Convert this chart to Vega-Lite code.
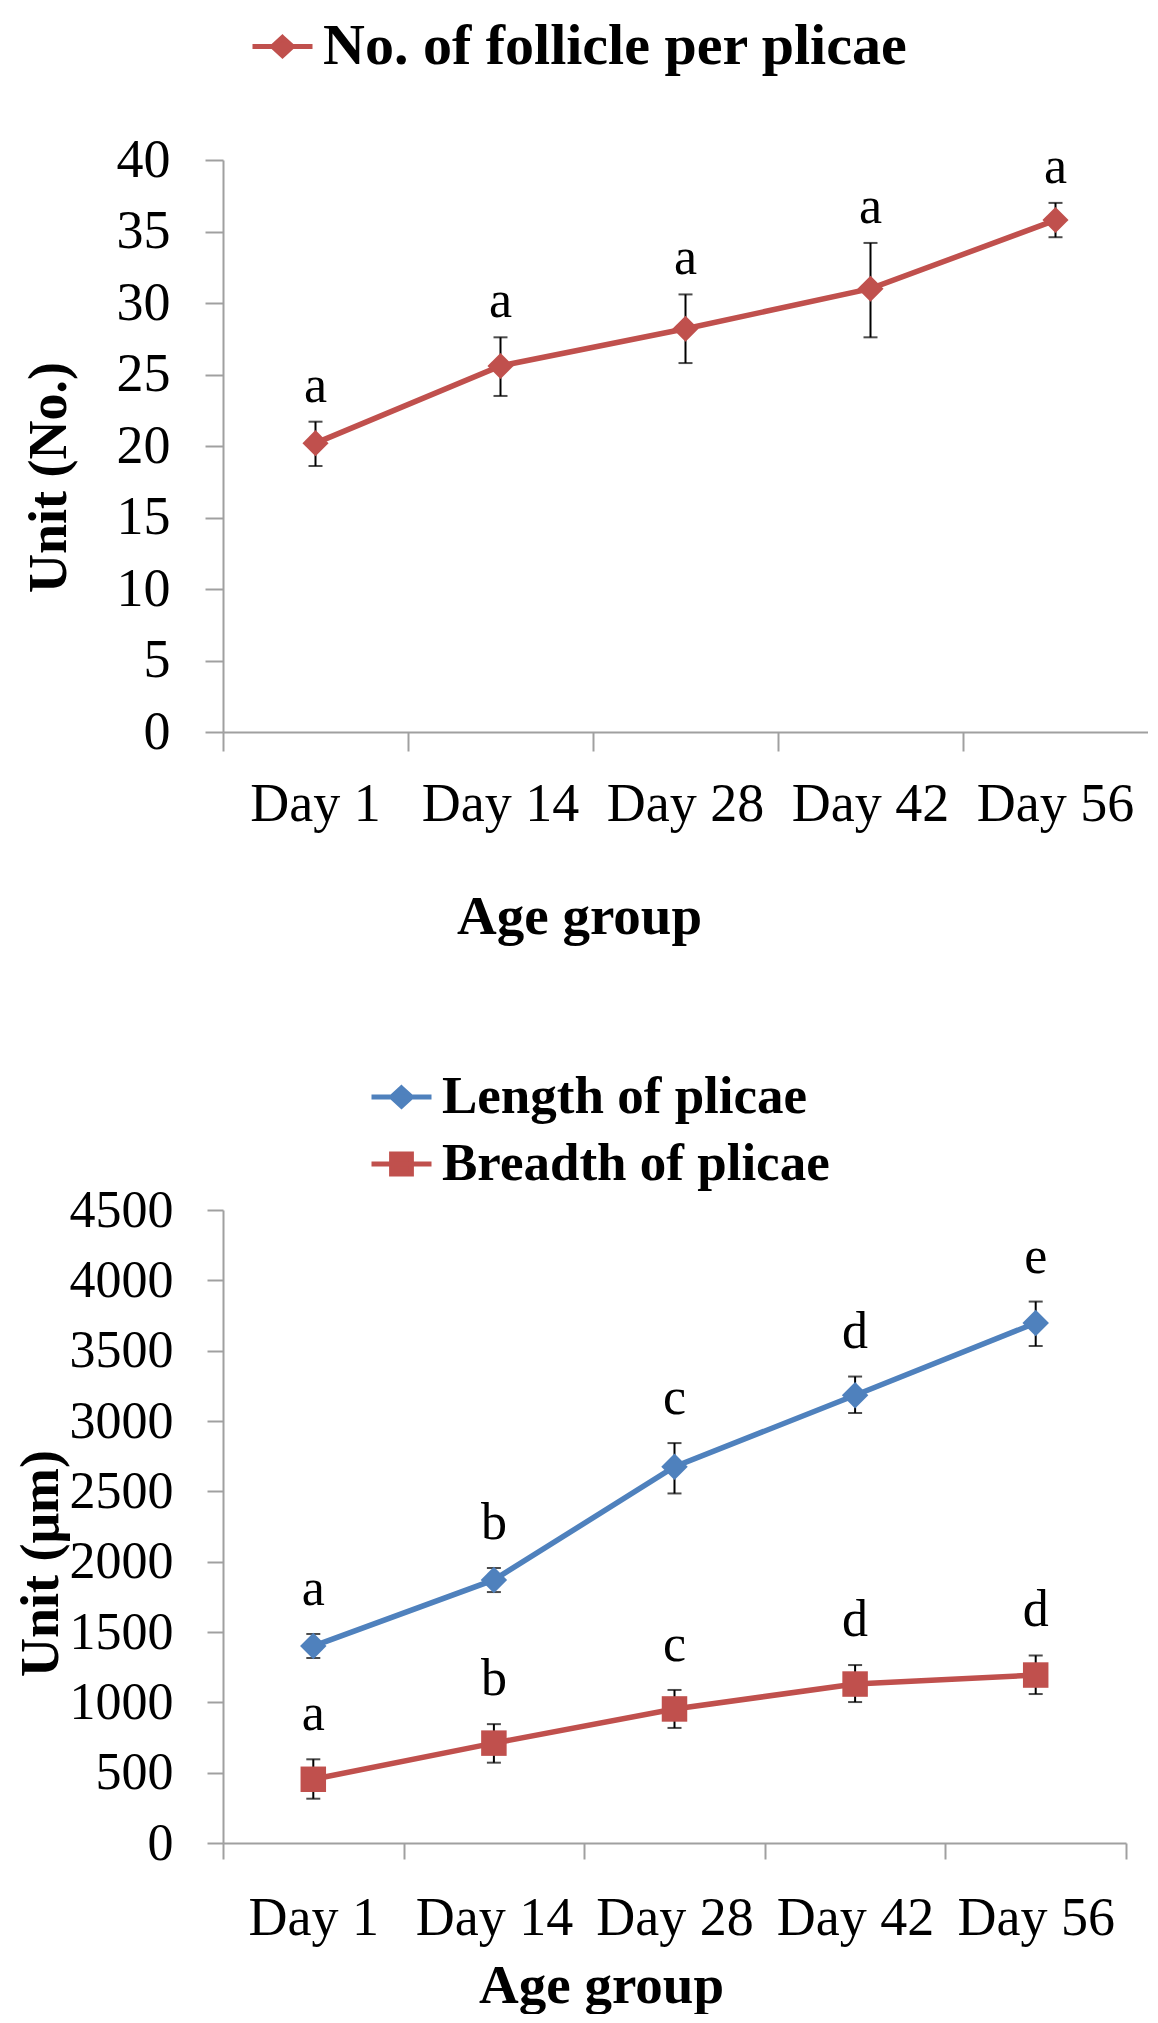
{
  "$schema": "https://vega.github.io/schema/vega-lite/v6.json",
  "background": "white",
  "padding": {"left": 14, "top": 14, "right": 0, "bottom": 0},
  "columns": 1,
  "align": "none",
  "spacing": 120,
  "config": {
    "font": "Liberation Serif",
    "view": {"stroke": null},
    "axis": {
      "domainColor": "#a0a0a0", "domainWidth": 2, "tickColor": "#a0a0a0", "tickWidth": 2,
      "grid": false, "labelColor": "black", "titleColor": "black",
      "labelFont": "Liberation Serif", "titleFont": "Liberation Serif", "titleFontWeight": "bold"
    }
  },
  "resolve": {
    "scale": {"color": "independent", "shape": "independent"},
    "legend": {"color": "independent", "shape": "independent"}
  },
  "concat": [
    {
      "width": 925,
      "height": 572,
      "data": {"values": [
        {"age": "Day 1", "series": "No. of follicle per plicae", "value": 20.2, "lo": 18.6, "hi": 21.7, "letter": "a"},
        {"age": "Day 14", "series": "No. of follicle per plicae", "value": 25.6, "lo": 23.5, "hi": 27.6, "letter": "a"},
        {"age": "Day 28", "series": "No. of follicle per plicae", "value": 28.2, "lo": 25.8, "hi": 30.6, "letter": "a"},
        {"age": "Day 42", "series": "No. of follicle per plicae", "value": 31.0, "lo": 27.6, "hi": 34.2, "letter": "a"},
        {"age": "Day 56", "series": "No. of follicle per plicae", "value": 35.8, "lo": 34.6, "hi": 37.0, "letter": "a"}
      ]},
      "encoding": {
        "x": {
          "field": "age", "type": "nominal", "sort": null,
          "scale": {"paddingInner": 0, "paddingOuter": 0},
          "axis": {
            "title": "Age group", "labelAngle": 0, "bandPosition": 0,
            "tickSize": 19, "labelPadding": 26, "labelFontSize": 54, "titleFontSize": 55,
            "titlePadding": 59, "minExtent": 99, "maxExtent": 99, "titleX": 356
          }
        },
        "color": {
          "field": "series", "type": "nominal",
          "scale": {"domain": ["No. of follicle per plicae"], "range": ["#C0504D"]},
          "legend": {
            "orient": "none", "legendX": 27, "legendY": -146, "title": null,
            "labelFontSize": 58, "labelFontWeight": "bold", "labelFont": "Liberation Serif", "labelColor": "black",
            "symbolSize": 3600, "labelOffset": 8, "padding": 0, "rowPadding": 1, "labelLimit": 1000,
            "encode": {"symbols": {"update": {
              "shape": {"value": "M-1,0H1M0,-0.3L0.33,0L0,0.3L-0.33,0Z"},
              "fill": {"value": "#C0504D"}, "stroke": {"value": "#C0504D"},
              "strokeWidth": {"value": 5}, "opacity": {"value": 1}
            }}}
          }
        },
        "y": {
          "field": "value", "type": "quantitative",
          "scale": {"domain": [0, 40], "nice": false},
          "axis": {
            "title": "Unit (No.)", "values": [0, 5, 10, 15, 20, 25, 30, 35, 40],
            "tickSize": 18, "labelPadding": 35, "labelFontSize": 54, "titleFontSize": 54,
            "titlePadding": 36.5, "minExtent": 110, "maxExtent": 110, "titleY": 317
          }
        }
      },
      "layer": [
        {"mark": {"type": "line", "strokeWidth": 5.5}},
        {
          "mark": {"type": "rule", "strokeWidth": 2},
          "encoding": {"y": {"field": "lo"}, "y2": {"field": "hi"}, "color": {"value": "black"}}
        },
        {
          "mark": {"type": "tick", "thickness": 2, "size": 14},
          "encoding": {"y": {"field": "lo"}, "color": {"value": "black"}}
        },
        {
          "mark": {"type": "tick", "thickness": 2, "size": 14},
          "encoding": {"y": {"field": "hi"}, "color": {"value": "black"}}
        },
        {"mark": {"type": "point", "shape": "diamond", "filled": true, "size": 680, "opacity": 1}},
        {
          "mark": {"type": "text", "fontSize": 52, "dy": -20, "baseline": "alphabetic"},
          "encoding": {"y": {"field": "hi"}, "text": {"field": "letter"}, "color": {"value": "black"}}
        }
      ]
    },
    {
      "width": 903,
      "height": 633,
      "data": {"values": [
        {"age": "Day 1", "series": "Length of plicae", "value": 1400, "lo": 1315, "hi": 1486, "letter": "a"},
        {"age": "Day 14", "series": "Length of plicae", "value": 1870, "lo": 1784, "hi": 1955, "letter": "b"},
        {"age": "Day 28", "series": "Length of plicae", "value": 2675, "lo": 2485, "hi": 2843, "letter": "c"},
        {"age": "Day 42", "series": "Length of plicae", "value": 3183, "lo": 3057, "hi": 3316, "letter": "d"},
        {"age": "Day 56", "series": "Length of plicae", "value": 3697, "lo": 3533, "hi": 3849, "letter": "e"},
        {"age": "Day 1", "series": "Breadth of plicae", "value": 453, "lo": 315, "hi": 595, "letter": "a"},
        {"age": "Day 14", "series": "Breadth of plicae", "value": 710, "lo": 571, "hi": 845, "letter": "b"},
        {"age": "Day 28", "series": "Breadth of plicae", "value": 953, "lo": 818, "hi": 1088, "letter": "c"},
        {"age": "Day 42", "series": "Breadth of plicae", "value": 1130, "lo": 1002, "hi": 1265, "letter": "d"},
        {"age": "Day 56", "series": "Breadth of plicae", "value": 1194, "lo": 1059, "hi": 1333, "letter": "d"}
      ]},
      "encoding": {
        "x": {
          "field": "age", "type": "nominal", "sort": null,
          "scale": {"paddingInner": 0, "paddingOuter": 0},
          "axis": {
            "title": "Age group", "labelAngle": 0, "tickBand": "extent",
            "tickSize": 16, "labelPadding": 32, "labelFontSize": 54, "titleFontSize": 55,
            "titlePadding": 14.3, "minExtent": 102, "maxExtent": 102, "titleX": 378
          }
        },
        "color": {
          "field": "series", "type": "nominal",
          "scale": {"domain": ["Length of plicae", "Breadth of plicae"], "range": ["#4F81BD", "#C0504D"]},
          "legend": {
            "orient": "none", "legendX": 146, "legendY": -145.5, "title": null,
            "labelFontSize": 53, "labelFontWeight": "bold", "labelFont": "Liberation Serif", "labelColor": "black",
            "symbolSize": 3600, "labelOffset": 8, "padding": 0, "rowPadding": 7, "labelLimit": 1000,
            "encode": {"symbols": {"update": {
              "shape": {"signal": "datum.value === 'Breadth of plicae' ? 'M-1,0H1M-0.33,-0.33H0.33V0.33H-0.33Z' : 'M-1,0H1M0,-0.3L0.33,0L0,0.3L-0.33,0Z'"},
              "fill": {"signal": "datum.value === 'Breadth of plicae' ? '#C0504D' : '#4F81BD'"},
              "stroke": {"signal": "datum.value === 'Breadth of plicae' ? '#C0504D' : '#4F81BD'"},
              "strokeWidth": {"value": 5}, "opacity": {"value": 1}
            }}}
          }
        },
        "y": {
          "field": "value", "type": "quantitative",
          "scale": {"domain": [0, 4500], "nice": false},
          "axis": {
            "title": "Unit (μm)", "format": "d", "values": [0, 500, 1000, 1500, 2000, 2500, 3000, 3500, 4000, 4500],
            "tickSize": 16, "labelPadding": 34, "labelFontSize": 52, "titleFontSize": 54,
            "titlePadding": 0.5, "minExtent": 154, "maxExtent": 154, "titleY": 353
          }
        }
      },
      "layer": [
        {"mark": {"type": "line", "strokeWidth": 5.5}},
        {
          "mark": {"type": "rule", "strokeWidth": 2},
          "encoding": {"y": {"field": "lo"}, "y2": {"field": "hi"}, "color": {"value": "black"}}
        },
        {
          "mark": {"type": "tick", "thickness": 2, "size": 14},
          "encoding": {"y": {"field": "lo"}, "color": {"value": "black"}}
        },
        {
          "mark": {"type": "tick", "thickness": 2, "size": 14},
          "encoding": {"y": {"field": "hi"}, "color": {"value": "black"}}
        },
        {
          "transform": [{"filter": "datum.series === 'Length of plicae'"}],
          "mark": {"type": "point", "shape": "diamond", "filled": true, "size": 700, "opacity": 1}
        },
        {
          "transform": [{"filter": "datum.series === 'Breadth of plicae'"}],
          "mark": {"type": "point", "shape": "square", "filled": true, "size": 650, "opacity": 1}
        },
        {
          "mark": {"type": "text", "fontSize": 52, "dy": -29, "baseline": "alphabetic"},
          "encoding": {"y": {"field": "hi"}, "text": {"field": "letter"}, "color": {"value": "black"}}
        }
      ]
    }
  ]
}
